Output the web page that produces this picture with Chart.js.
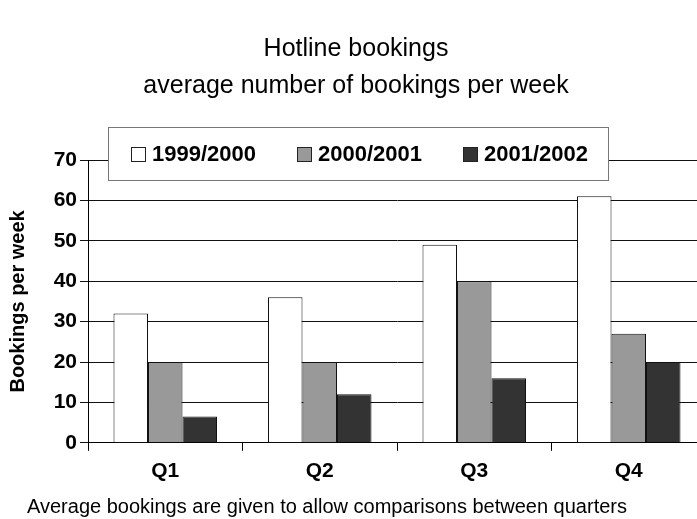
<!DOCTYPE html>
<html>
<head>
<meta charset="utf-8">
<script src="https://cdn.jsdelivr.net/npm/chart.js@4/dist/chart.umd.min.js"></script>
<style>
  html, body { margin: 0; padding: 0; background: #fff; overflow: hidden; }
  #wrap { width: 712px; height: 519px; }
</style>
</head>
<body>
<div id="wrap"><canvas id="bookingsChart" width="712" height="519"></canvas></div>
<script>
const quarters = ["Q1", "Q2", "Q3", "Q4"];
const seriesNames = ["1999/2000", "2000/2001", "2001/2002"];
const bookings9900 = [32, 36, 49, 61];
const bookings0001 = [20, 20, 40, 27];
const bookings0102 = [6.5, 12, 16, 20];
const barColours = ["#ffffff", "#999999", "#333333"];
const titleLines = ["Hotline bookings", "average number of bookings per week"];
const footnote = "Average bookings are given to allow comparisons between quarters";

const FONT = "'Liberation Sans', Arial, Helvetica, sans-serif";

// legend is drawn by hand so it can sit on a white box over the top gridline
const boxLegend = {
    id: "boxLegend",
    afterDraw(chart) {
        const ctx = chart.ctx;
        const area = chart.chartArea;
        const x0 = area.left + 20, y0 = 127, w = 500, h = 53;
        ctx.save();
        ctx.fillStyle = "#fff";
        ctx.fillRect(x0, y0, w, h);
        ctx.strokeStyle = "#777";
        ctx.lineWidth = 1;
        ctx.strokeRect(x0 + 0.5, y0 + 0.5, w, h);
        ctx.font = "bold 22px " + FONT;
        ctx.textBaseline = "middle";
        chart.data.datasets.forEach((ds, i) => {
            const ix = x0 + 23 + i * 166;
            const iy = y0 + 27;
            ctx.fillStyle = ds.backgroundColor;
            ctx.fillRect(ix, iy - 7, 14, 14);
            ctx.strokeStyle = "#222";
            ctx.strokeRect(ix + 0.5, iy - 6.5, 14, 14);
            ctx.fillStyle = "#000";
            ctx.fillText(ds.label, ix + 21, iy + 1);
        });
        // footnote under the axis
        ctx.font = "20px " + FONT;
        ctx.textBaseline = "middle";
        ctx.fillText(footnote, 27, 507);
        ctx.restore();
    }
};

const ctx = document.getElementById("bookingsChart").getContext("2d");
new Chart(ctx, {
    type: "bar",
    data: {
        labels: quarters,
        datasets: [
            { label: seriesNames[0], data: bookings9900, backgroundColor: barColours[0] },
            { label: seriesNames[1], data: bookings0001, backgroundColor: barColours[1] },
            { label: seriesNames[2], data: bookings0102, backgroundColor: barColours[2] },
        ].map((d) => Object.assign(d, {
            borderColor: "#111",
            borderWidth: 1,
            categoryPercentage: 0.67,
            barPercentage: 1.0,
        })),
    },
    options: {
        responsive: false,
        animation: false,
        layout: {
            padding: { left: 6, right: 6, top: 0, bottom: 27 }
        },
        plugins: {
            legend: { display: false },
            tooltip: { enabled: false },
            title: {
                display: true,
                text: titleLines,
                color: "#000",
                font: { family: FONT, size: 25, weight: "normal", lineHeight: 1.5 },
                padding: { top: 30, bottom: 55 }
            }
        },
        scales: {
            x: {
                offset: true,
                grid: {
                    offset: true,
                    drawOnChartArea: false,
                    drawTicks: true,
                    tickLength: 8,
                    color: "#000"
                },
                border: { color: "#000", width: 1 },
                ticks: {
                    color: "#000",
                    padding: 8,
                    font: { family: FONT, size: 21, weight: "bold" }
                }
            },
            y: {
                min: 0,
                max: 70,
                afterFit: function(scale) {
                    scale.width = 82;
                },
                ticks: {
                    stepSize: 10,
                    color: "#000",
                    padding: 3,
                    font: { family: FONT, size: 21, weight: "bold" }
                },
                grid: {
                    color: "#111",
                    tickLength: 8,
                    lineWidth: 1
                },
                border: { color: "#000", width: 1 },
                title: {
                    display: true,
                    text: "Bookings per week",
                    color: "#000",
                    font: { family: FONT, size: 20, weight: "bold" },
                    padding: { top: 0, bottom: 0 }
                }
            }
        }
    },
    plugins: [boxLegend]
});
</script>
</body>
</html>
